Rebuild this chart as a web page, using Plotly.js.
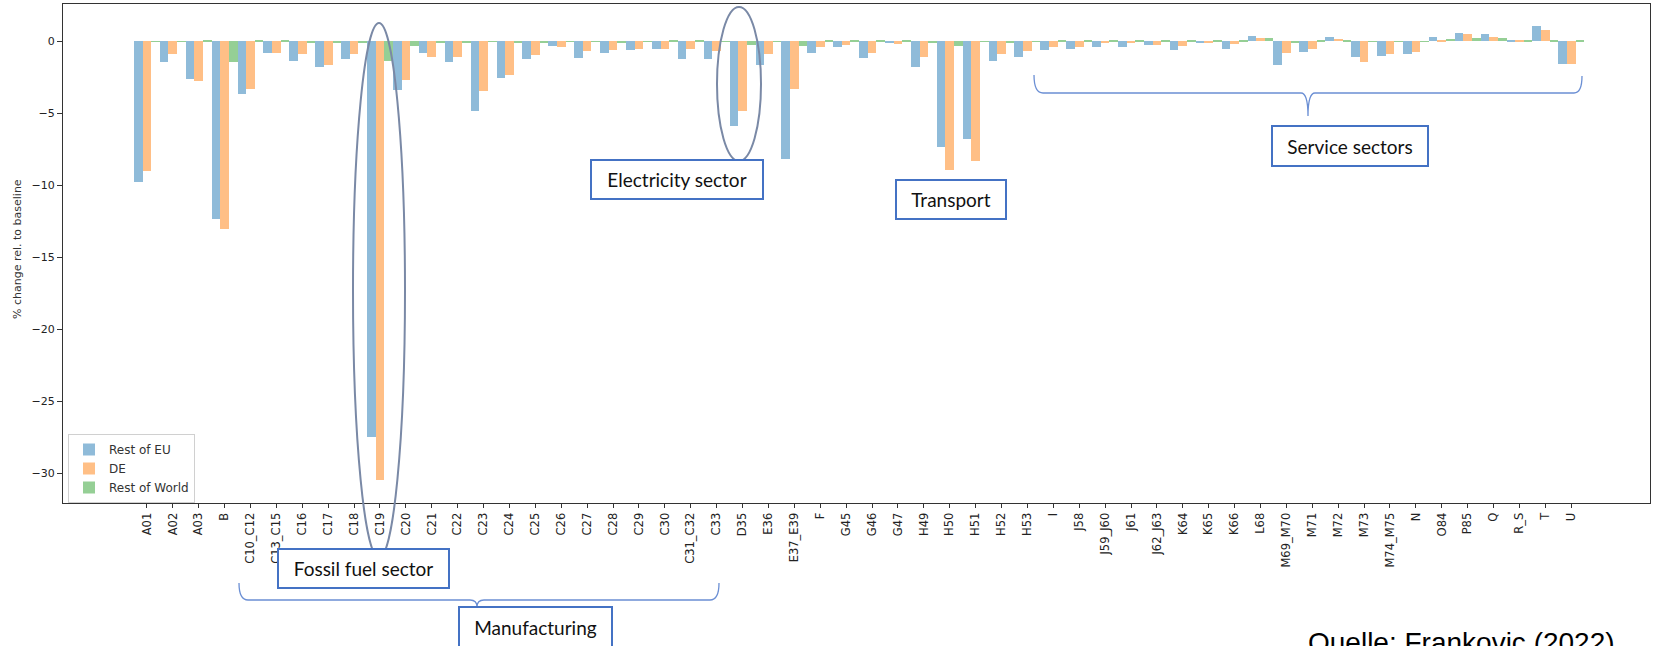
<!DOCTYPE html>
<html>
<head>
<meta charset="utf-8">
<script src="https://cdn.plot.ly/plotly-3.0.1.min.js"></script>
<style>html,body{margin:0;padding:0;background:#fff;}#chart{width:1654px;height:646px;}</style>
</head>
<body>
<div id="chart"></div>
<script>
const categories = ['A01','A02','A03','B','C10_C12','C13_C15','C16','C17','C18','C19','C20','C21','C22','C23','C24','C25','C26','C27','C28','C29','C30','C31_C32','C33','D35','E36','E37_E39','F','G45','G46','G47','H49','H50','H51','H52','H53','I','J58','J59_J60','J61','J62_J63','K64','K65','K66','L68','M69_M70','M71','M72','M73','M74_M75','N','O84','P85','Q','R_S','T','U'];

const restOfEU = [-9.77,-1.44,-2.64,-12.34,-3.66,-0.79,-1.34,-1.80,-1.25,-27.46,-3.38,-0.79,-1.44,-4.84,-2.55,-1.25,-0.32,-1.16,-0.79,-0.60,-0.51,-1.25,-1.25,-5.88,-1.62,-8.15,-0.79,-0.42,-1.16,-0.07,-1.80,-7.34,-6.77,-1.34,-1.06,-0.60,-0.51,-0.42,-0.42,-0.23,-0.60,-0.05,-0.53,0.39,-1.62,-0.72,0.30,-1.09,-1.00,-0.90,0.30,0.58,0.49,0.12,1.04,-1.55];

const de = [-9.03,-0.88,-2.75,-13.01,-3.31,-0.79,-0.88,-1.62,-0.88,-30.47,-2.66,-1.06,-1.06,-3.47,-2.36,-0.95,-0.42,-0.69,-0.62,-0.53,-0.51,-0.53,-0.70,-4.86,-0.88,-3.31,-0.42,-0.23,-0.79,-0.16,-1.07,-8.94,-8.30,-0.88,-0.70,-0.42,-0.42,-0.14,-0.14,-0.23,-0.32,-0.07,-0.16,0.21,-0.81,-0.53,0.19,-1.46,-0.90,-0.72,0.05,0.49,0.30,0.12,0.76,-1.55];

const restOfWorld = [-0.02,0.02,0.10,-1.44,0.03,0.10,-0.10,-0.10,-0.05,-1.34,-0.30,-0.05,-0.05,0.02,-0.05,-0.08,0.02,0.02,-0.05,0.02,0.08,0.10,0.02,-0.25,0.02,-0.32,0.08,0.08,0.03,0.10,-0.05,-0.32,0.02,-0.05,0.02,0.08,0.08,0.08,0.08,0.08,0.03,0.08,0.08,0.21,-0.10,0.03,0.03,0.02,0.02,0.02,0.19,0.21,0.21,0.12,0.12,0.03];

const seriesNames = ['Rest of EU','DE','Rest of World'];
const seriesColors = ['#8fbbd9','#ffbf86','#95cf95'];
const yTickVals = [0,-5,-10,-15,-20,-25,-30];

// plot-area geometry in pixels (layout only)
const L = 63, R = 1650, T = 4, B = 503, W = 1654, H = 646;
const px = X => (X - L) / (R - L);
const py = Y => (B - Y) / (B - T);
const toPath = pts => pts.map(p => (p[0] + ' ' + px(p[1]).toFixed(5) + ',' + py(p[2]).toFixed(5))).join(' ');

const series = [restOfEU, de, restOfWorld];
const traces = series.map((vals, i) => ({
  type: 'bar', x: categories, y: vals, name: seriesNames[i],
  marker: {color: seriesColors[i], line: {width: 0}},
  hoverinfo: 'x+y+name'
}));

const boxStyle = {color: '#4472c4', width: 2};
const braceColor = '#6b8fd4';
const ellipseColor = '#7a89a6';

const boxes = [
  {text: 'Fossil fuel sector', x0: 278, x1: 449, y0: 549, y1: 588},
  {text: 'Manufacturing', x0: 459, x1: 612, y0: 607, y1: 648},
  {text: 'Electricity sector', x0: 591, x1: 763, y0: 160, y1: 199},
  {text: 'Transport', x0: 896, x1: 1006, y0: 180, y1: 219},
  {text: 'Service sectors', x0: 1272, x1: 1428, y0: 126, y1: 166}
];

const annotations = boxes.map(b => ({
  xref: 'paper', yref: 'paper', showarrow: false,
  x: px((b.x0 + b.x1) / 2), y: py((b.y0 + b.y1) / 2),
  xanchor: 'center', yanchor: 'middle',
  text: b.text, font: {family: 'Lato, "Open Sans", sans-serif', size: 19, color: '#111'},
  bgcolor: '#ffffff', bordercolor: boxStyle.color, borderwidth: boxStyle.width, borderpad: 0,
  width: b.x1 - b.x0 - 2, height: b.y1 - b.y0 - 2, valign: 'middle'
}));

annotations.push({
  xref: 'paper', yref: 'paper', showarrow: false,
  x: px(17), y: py(249), xanchor: 'center', yanchor: 'middle', textangle: -90,
  text: '% change rel. to baseline',
  font: {family: 'DejaVu Sans, sans-serif', size: 11, color: '#333'}
});
annotations.push({
  xref: 'paper', yref: 'paper', showarrow: false,
  x: px(1306), y: py(625), xanchor: 'left', yanchor: 'top',
  text: 'Quelle: Frankovic (2022)',
  font: {family: '"Liberation Sans", Arial, sans-serif', size: 28, color: '#000'}
});

const shapes = [
  {type: 'circle', xref: 'paper', yref: 'paper', x0: px(353), x1: px(405), y0: py(558), y1: py(23),
   line: {color: ellipseColor, width: 2}, fillcolor: 'rgba(0,0,0,0)', layer: 'above'},
  {type: 'circle', xref: 'paper', yref: 'paper', x0: px(717), x1: px(761), y0: py(161), y1: py(7),
   line: {color: ellipseColor, width: 2}, fillcolor: 'rgba(0,0,0,0)', layer: 'above'},
  {type: 'path', xref: 'paper', yref: 'paper', layer: 'above', line: {color: braceColor, width: 1.3},
   path: toPath([['M',239,583],['Q',239,600],['',248,600],['L',470,600],['Q',477,600],['',477,607],['Q',477,600],['',484,600],['L',710,600],['Q',719,600],['',719,583]])},
  {type: 'path', xref: 'paper', yref: 'paper', layer: 'above', line: {color: braceColor, width: 1.3},
   path: toPath([['M',1034,75],['Q',1034,93],['',1043,93],['L',1301,93],['Q',1308,93],['',1308,116],['Q',1308,93],['',1315,93],['L',1574,93],['Q',1582,93],['',1582,76]])}
];

const layout = {
  width: W, height: H,
  margin: {l: L, r: W - R, t: T, b: H - B, pad: 0},
  paper_bgcolor: '#ffffff', plot_bgcolor: '#ffffff',
  barmode: 'group', bargap: 0, bargroupgap: 0,
  showlegend: true,
  legend: {x: px(68), y: py(434), xanchor: 'left', yanchor: 'top',
    bgcolor: '#ffffff', bordercolor: '#d0d0d0', borderwidth: 1,
    font: {family: 'DejaVu Sans, sans-serif', size: 12, color: '#333'}, tracegroupgap: 0},
  xaxis: {type: 'category', range: [-3.24, 58.04], tickangle: -90,
    tickfont: {family: 'DejaVu Sans, sans-serif', size: 11.5, color: '#222'},
    ticks: 'outside', ticklen: 4, tickcolor: '#333', tickwidth: 1,
    showline: true, linecolor: '#333', linewidth: 1.3, mirror: true,
    showgrid: false, zeroline: false, fixedrange: true},
  yaxis: {range: [-32.06, 2.59], tickvals: yTickVals,
    tickfont: {family: 'DejaVu Sans, sans-serif', size: 11, color: '#222'},
    ticks: 'outside', ticklen: 5, tickcolor: '#333', tickwidth: 1,
    showline: true, linecolor: '#333', linewidth: 1.3, mirror: true,
    showgrid: false, zeroline: false, fixedrange: true},
  shapes: shapes,
  annotations: annotations
};

Plotly.newPlot('chart', traces, layout, {displayModeBar: false, staticPlot: false});
</script>
</body>
</html>
